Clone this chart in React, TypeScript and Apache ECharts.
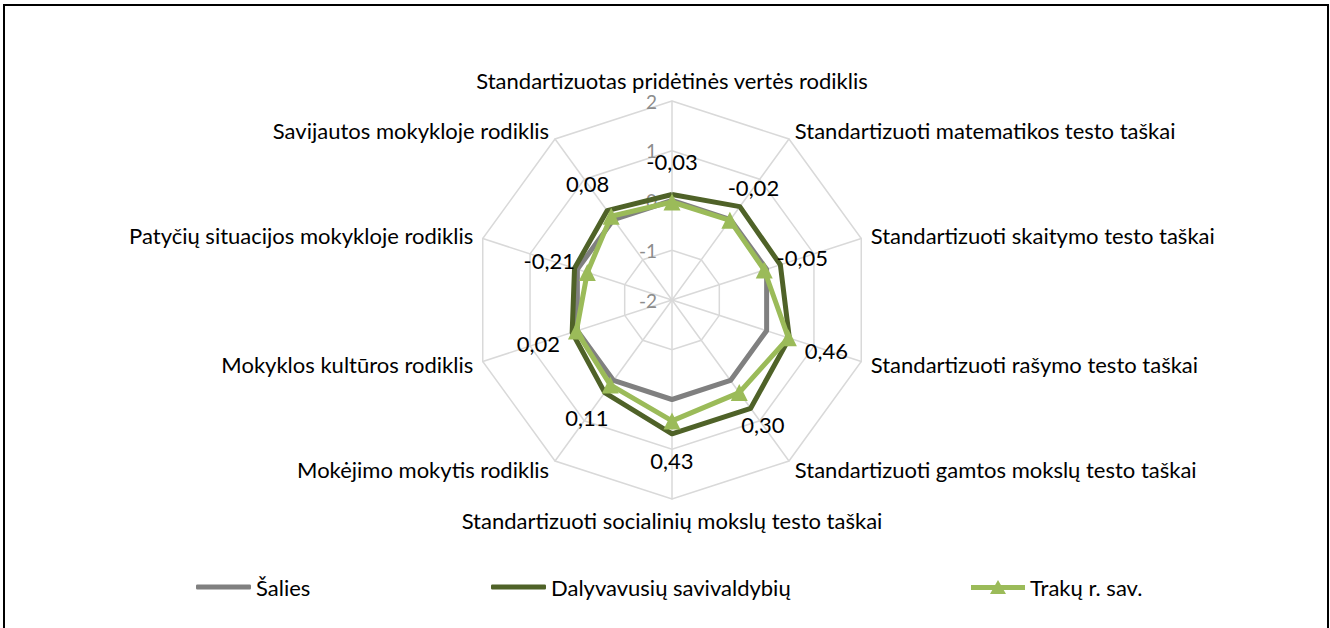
import React, { useEffect, useRef } from "react";
import * as echarts from "echarts";

const indicators = [
  "Standartizuotas pridėtinės vertės rodiklis",
  "Standartizuoti matematikos testo taškai",
  "Standartizuoti skaitymo testo taškai",
  "Standartizuoti rašymo testo taškai",
  "Standartizuoti gamtos mokslų testo taškai",
  "Standartizuoti socialinių mokslų testo taškai",
  "Mokėjimo mokytis rodiklis",
  "Mokyklos kultūros rodiklis",
  "Patyčių situacijos mokykloje rodiklis",
  "Savijautos mokykloje rodiklis",
];
const seriesNames = ["Šalies", "Dalyvavusių savivaldybių", "Trakų r. sav."];
const salies = [0, 0, 0, 0, 0, 0, 0, 0, 0, 0];
const dalyvavusiu = [0.12, 0.32, 0.29, 0.48, 0.69, 0.69, 0.3, 0.11, 0.06, 0.22];
const trakai = [-0.03, -0.02, -0.05, 0.46, 0.3, 0.43, 0.11, 0.02, -0.21, 0.08];
const axisMin = -2;
const axisMax = 2;

const FONT = "Lato";
const FS = 22;
const fmt = (v: number) => v.toFixed(2).replace(".", ",");

// ECharts radar runs counter-clockwise; reorder so that the chart reads clockwise
const order = [0, 9, 8, 7, 6, 5, 4, 3, 2, 1];
const reorder = <T,>(arr: T[]) => order.map((k) => arr[k]);

export default function App() {
  const ref = useRef<HTMLDivElement>(null);
  useEffect(() => {
    if (!ref.current) return;
    const chart = echarts.init(ref.current, null, { renderer: "svg" });
    const n = indicators.length;
    const labelSeries = trakai.map((tv, i) => {
      const ang = (i * 2 * Math.PI) / n;
      const d = 40;
      return {
        type: "radar",
        name: "lbl" + i,
        silent: true,
        z: 5,
        symbol: "circle",
        symbolSize: 1,
        itemStyle: { color: "rgba(0,0,0,0)" },
        lineStyle: { width: 0, opacity: 0 },
        label: {
          show: true,
          position: "inside",
          offset: [d * Math.sin(ang), -d * Math.cos(ang)],
          color: "#000",
          fontSize: FS,
          fontFamily: FONT,
          formatter: (p: any) => {
            const v = p.value;
            return v === tv ? fmt(v) : "";
          },
        },
        data: [{ value: reorder(trakai), name: "lbl" + i }],
      };
    });
    const legendBase = {
      top: 571,
      itemWidth: 55,
      textStyle: { fontSize: FS, color: "#000", fontFamily: FONT },
      selectedMode: false,
    };
    chart.setOption({
      animation: false,
      textStyle: { fontFamily: FONT },
      graphic: [
        {
          type: "rect",
          shape: { x: 4, y: 5, width: 1324, height: 640 },
          style: { fill: "none", stroke: "#000", lineWidth: 2 },
          silent: true,
        },
      ],
      legend: [
        { ...legendBase, left: 191, itemHeight: 5, icon: "roundRect", data: [seriesNames[0]] },
        { ...legendBase, left: 486, itemHeight: 5, icon: "roundRect", data: [seriesNames[1]] },
        {
          ...legendBase,
          left: 966,
          itemWidth: 54,
          itemHeight: 14,
          icon: "path://M0,5 L24.1,5 L27,0 L29.9,5 L54,5 L54,10 L32.7,10 L35,14 L19,14 L21.3,10 L0,10 Z",
          data: [seriesNames[2]],
        },
      ],
      radar: {
        center: [672, 300],
        radius: 199,
        startAngle: 90,
        splitNumber: 4,
        shape: "polygon",
        nameGap: 10,
        axisName: { color: "#000", fontSize: FS, fontFamily: FONT },
        axisLine: { lineStyle: { color: "#d9d9d9", width: 1.5 } },
        splitLine: { lineStyle: { color: "#d9d9d9", width: 1.5 } },
        splitArea: { show: false },
        axisTick: { show: false },
        axisLabel: { show: false },
        indicator: reorder(indicators).map((name, i) =>
          i === 0
            ? {
                name,
                min: axisMin,
                max: axisMax,
                axisLabel: {
                  show: true,
                  color: "#8c8c8c",
                  fontSize: 19,
                  fontFamily: FONT,
                  margin: 15,
                },
              }
            : { name, min: axisMin, max: axisMax }
        ),
      },
      series: [
        {
          type: "radar",
          name: seriesNames[0],
          symbol: "none",
          z: 2,
          itemStyle: { color: "#808080" },
          lineStyle: { color: "#808080", width: 5 },
          data: [{ value: reorder(salies), name: seriesNames[0] }],
        },
        {
          type: "radar",
          name: seriesNames[1],
          symbol: "none",
          z: 3,
          itemStyle: { color: "#4f6228" },
          lineStyle: { color: "#4f6228", width: 5 },
          data: [{ value: reorder(dalyvavusiu), name: seriesNames[1] }],
        },
        {
          type: "radar",
          name: seriesNames[2],
          symbol: "triangle",
          symbolSize: 17,
          z: 4,
          itemStyle: { color: "#9bbb59" },
          lineStyle: { color: "#9bbb59", width: 5 },
          data: [{ value: reorder(trakai), name: seriesNames[2] }],
        },
        ...labelSeries,
      ],
    });
    return () => chart.dispose();
  }, []);
  return (
    <div
      ref={ref}
      style={{ position: "absolute", left: 0, top: 0, width: 1330, height: 628, background: "#fff" }}
    />
  );
}
